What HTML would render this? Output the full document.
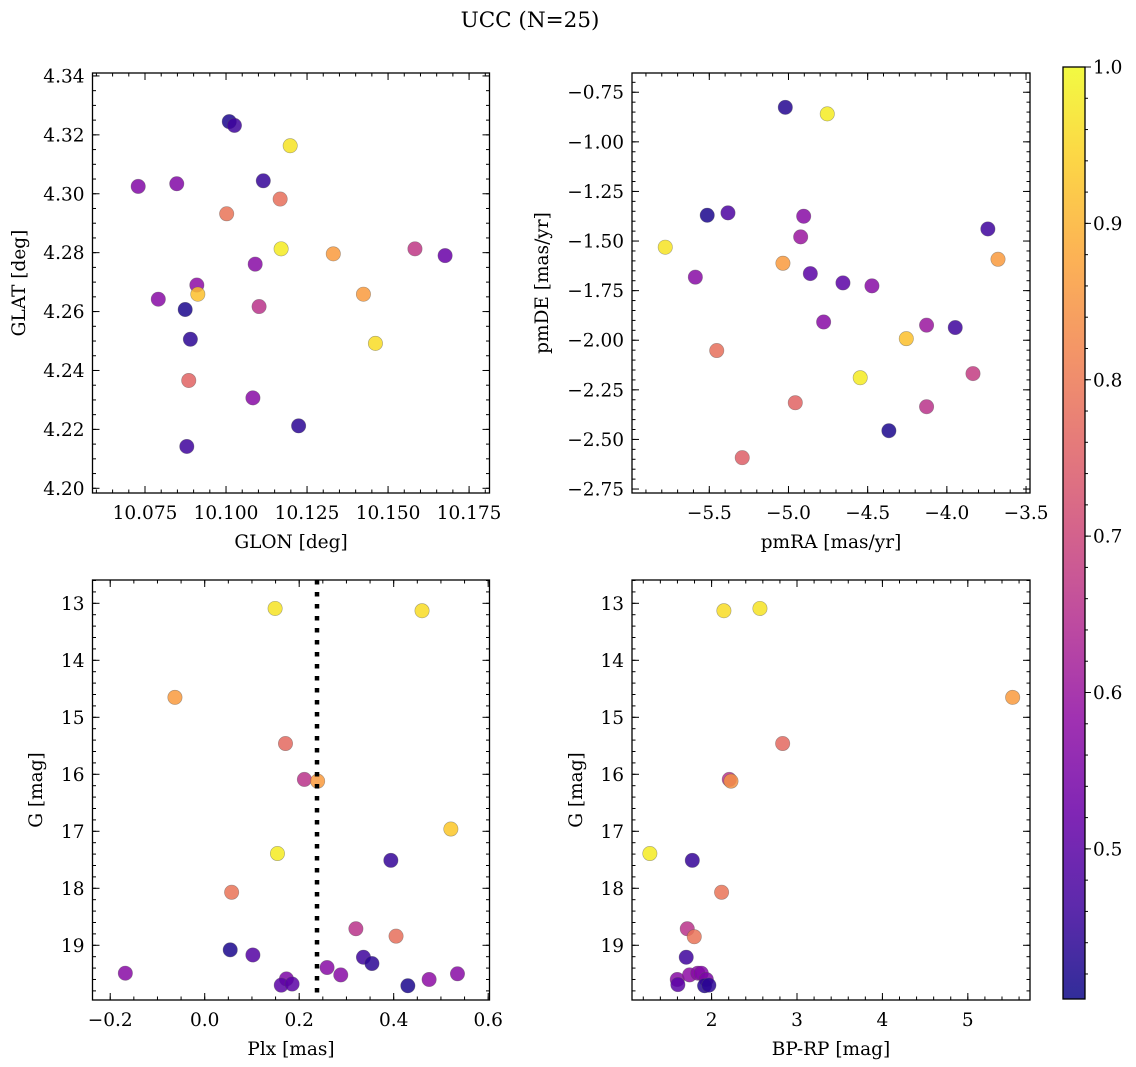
<!DOCTYPE html>
<html><head><meta charset="utf-8">
<style>
html,body{margin:0;padding:0;background:#fff;}
svg{display:block;font-family:"DejaVu Serif","Liberation Serif",serif;}
</style></head>
<body>
<svg id="fig" width="1136" height="1067" viewBox="0 0 1136 1067" xmlns="http://www.w3.org/2000/svg">
<rect x="0" y="0" width="1136" height="1067" fill="#fff"/>
<text x="530" y="27" font-size="21.5" text-anchor="middle">UCC (N=25)</text>
<g id="plots"></g>
</svg>
<script>
// ---- data ----
const tlGlon = [10.1010,10.1026,10.1198,10.1115,10.0729,10.0848,10.1167,10.1002,10.1170,10.1331,10.1583,10.1676,10.1090,10.0910,10.0913,10.0791,10.0874,10.1102,10.1424,10.0890,10.1461,10.0885,10.1083,10.1224,10.0879];
const tlGlat = [4.3245,4.3232,4.3163,4.3044,4.3025,4.3034,4.2982,4.2932,4.2813,4.2796,4.2813,4.2790,4.2761,4.2690,4.2659,4.2642,4.2607,4.2617,4.2659,4.2506,4.2492,4.2366,4.2307,4.2212,4.2142];
const tlProb = [0.42,0.46,0.97,0.45,0.56,0.56,0.78,0.79,0.98,0.86,0.67,0.52,0.57,0.58,0.92,0.57,0.42,0.66,0.86,0.44,0.96,0.76,0.57,0.44,0.46];

const trPmra = [-5.020,-4.755,-5.513,-5.382,-4.904,-4.923,-3.741,-5.778,-5.035,-3.677,-5.588,-4.862,-4.656,-4.473,-4.778,-4.128,-3.947,-4.256,-5.453,-4.547,-3.835,-4.957,-4.128,-4.366,-5.292];
const trPmde = [-0.826,-0.859,-1.370,-1.358,-1.375,-1.479,-1.439,-1.531,-1.612,-1.592,-1.682,-1.664,-1.711,-1.726,-1.908,-1.924,-1.936,-1.992,-2.052,-2.189,-2.168,-2.315,-2.335,-2.456,-2.592];
const trProb = [0.43,0.98,0.42,0.48,0.57,0.60,0.46,0.97,0.86,0.86,0.57,0.50,0.50,0.57,0.57,0.60,0.46,0.92,0.78,0.98,0.68,0.76,0.66,0.42,0.75];

const blPlx = [0.149,0.460,-0.063,0.171,0.211,0.239,0.521,0.154,0.394,0.057,0.320,0.405,0.054,0.102,0.336,0.354,0.259,-0.168,0.288,0.535,0.475,0.173,0.162,0.185,0.430];
const blG = [13.09,13.13,14.65,15.46,16.09,16.12,16.96,17.39,17.51,18.07,18.71,18.84,19.08,19.17,19.21,19.32,19.39,19.49,19.52,19.50,19.60,19.59,19.70,19.68,19.71];
const blProb = [0.97,0.96,0.86,0.77,0.66,0.86,0.93,0.98,0.45,0.79,0.66,0.78,0.42,0.49,0.46,0.44,0.57,0.57,0.57,0.57,0.58,0.55,0.50,0.50,0.42];
const plxLine = [0.2377];

const brBprp = [2.144,2.566,5.525,2.832,2.207,2.227,1.277,1.774,2.117,1.715,1.797,1.703,1.598,1.605,1.742,1.839,1.879,1.938,1.918,1.968];
const brG = [13.13,13.09,14.65,15.46,16.09,16.12,17.39,17.51,18.07,18.71,18.85,19.21,19.60,19.69,19.52,19.49,19.49,19.60,19.71,19.70];
const brProb = [0.96,0.97,0.86,0.77,0.66,0.84,0.98,0.45,0.79,0.66,0.79,0.46,0.57,0.50,0.58,0.57,0.56,0.55,0.43,0.44];

const tlXTicks = [10.075,10.100,10.125,10.150,10.175];
const tlXTickLabels = ["10.075","10.100","10.125","10.150","10.175"];
const tlYTicks = [4.20,4.22,4.24,4.26,4.28,4.30,4.32,4.34];
const tlYTickLabels = ["4.20","4.22","4.24","4.26","4.28","4.30","4.32","4.34"];
const trXTicks = [-5.5,-5.0,-4.5,-4.0,-3.5];
const trXTickLabels = ["\u22125.5","\u22125.0","\u22124.5","\u22124.0","\u22123.5"];
const trYTicks = [-0.75,-1.00,-1.25,-1.50,-1.75,-2.00,-2.25,-2.50,-2.75];
const trYTickLabels = ["\u22120.75","\u22121.00","\u22121.25","\u22121.50","\u22121.75","\u22122.00","\u22122.25","\u22122.50","\u22122.75"];
const blXTicks = [-0.2,0.0,0.2,0.4,0.6];
const blXTickLabels = ["\u22120.2","0.0","0.2","0.4","0.6"];
const gTicks = [13,14,15,16,17,18,19];
const gTickLabels = ["13","14","15","16","17","18","19"];
const brXTicks = [2,3,4,5];
const brXTickLabels = ["2","3","4","5"];
const cbTicks = [0.5,0.6,0.7,0.8,0.9,1.0];
const cbTickLabels = ["0.5","0.6","0.7","0.8","0.9","1.0"];

// ---- rendering ----
const NS = "http://www.w3.org/2000/svg";
const root = document.getElementById('plots');
const VMIN = 0.404, VMAX = 1.0;
const FS = 18.5;
const plasma = [[13,8,135],[65,4,157],[106,0,168],[143,13,164],[177,42,144],[204,71,120],[225,100,98],[242,132,75],[252,166,54],[252,206,37],[240,249,33]];
function cmap(p){
  let t = (p-VMIN)/(VMAX-VMIN); t = Math.max(0,Math.min(1,t));
  const f = t*10, i = Math.min(9,Math.floor(f)), r = f-i;
  const a = plasma[i], b = plasma[i+1];
  return 'rgb('+a.map((v,k)=>Math.round(v+(b[k]-v)*r)).join(',')+')';
}
function mk(tag, attrs, parent){
  const e = document.createElementNS(NS, tag);
  for (const k in attrs) e.setAttribute(k, attrs[k]);
  (parent||root).appendChild(e);
  return e;
}
function range(a,b,s){const o=[];for(let v=a;v<=b+s*1e-6;v+=s)o.push(+v.toFixed(6));return o;}

function panel(cfg){
  const {name,x0,x1,y0,y1,xmin,xmax,ymin,ymax,invertY} = cfg;
  const sx = v => x0 + (v-xmin)/(xmax-xmin)*(x1-x0);
  const sy = invertY ? (v => y0 + (v-ymin)/(ymax-ymin)*(y1-y0)) : (v => y1 - (v-ymin)/(ymax-ymin)*(y1-y0));
  const g = mk('g',{});
  
  
  const pts = mk('g',{},g);
  
  
  cfg.xs.forEach((xv,i)=>{
    const c = mk('circle',{cx:sx(xv),cy:sy(cfg.ys[i]),r:7.2,fill:cmap(cfg.ps[i]),'fill-opacity':0.85,stroke:'#555','stroke-opacity':0.5,'stroke-width':0.6},pts);
    
    
  });
  if (cfg.vline){
    cfg.vline.forEach(v=>{
      const l = mk('line',{x1:sx(v),x2:sx(v),y1:y0,y2:y1,stroke:'#000','stroke-width':4.5,'stroke-dasharray':'4.5 7.5'},g);
      
      
    });
  }
  const tk = mk('g',{stroke:'#000','stroke-width':1},g);
  
  
  const xm = range(Math.ceil(xmin/cfg.xMinor)*cfg.xMinor, xmax, cfg.xMinor);
  xm.forEach(v=>{const X=sx(v);mk('line',{x1:X,x2:X,y1:y1,y2:y1-3.5},tk);mk('line',{x1:X,x2:X,y1:y0,y2:y0+3.5},tk);});
  cfg.xTicks.forEach(v=>{const X=sx(v);mk('line',{x1:X,x2:X,y1:y1,y2:y1-7},tk);mk('line',{x1:X,x2:X,y1:y0,y2:y0+7},tk);});
  const lo = Math.min(ymin,ymax), hi = Math.max(ymin,ymax);
  const ym = range(Math.ceil(lo/cfg.yMinor)*cfg.yMinor, hi, cfg.yMinor);
  ym.forEach(v=>{const Y=sy(v);mk('line',{x1:x0,x2:x0+3.5,y1:Y,y2:Y},tk);mk('line',{x1:x1,x2:x1-3.5,y1:Y,y2:Y},tk);});
  cfg.yTicks.forEach(v=>{const Y=sy(v);mk('line',{x1:x0,x2:x0+7,y1:Y,y2:Y},tk);mk('line',{x1:x1,x2:x1-7,y1:Y,y2:Y},tk);});
  const fr = mk('rect',{x:x0,y:y0,width:x1-x0,height:y1-y0,fill:'none',stroke:'#000','stroke-width':1.3},g);
  
  
  cfg.xTicks.forEach((v,i)=>{
    const t = mk('text',{x:sx(v),y:y1+26,'font-size':FS,'text-anchor':'middle'},g);
    t.textContent = cfg.xTickLabels[i];
    
    
  });
  cfg.yTicks.forEach((v,i)=>{
    const t = mk('text',{x:x0-8,y:sy(v)+6.5,'font-size':FS,'text-anchor':'end'},g);
    t.textContent = cfg.yTickLabels[i];
    
    
  });
  const xl = mk('text',{x:(x0+x1)/2,y:y1+55,'font-size':FS,'text-anchor':'middle'},g);
  xl.textContent = cfg.xLabel;
  
  
  const yl = mk('text',{x:0,y:0,'font-size':FS,'text-anchor':'middle',transform:'translate('+cfg.yLabelX+','+((y0+y1)/2)+') rotate(-90)'},g);
  yl.textContent = cfg.yLabel;
  
  
}

panel({name:'glon-glat',x0:92.5,x1:489.5,y0:73,y1:493,xmin:10.0588,xmax:10.1813,ymin:4.1984,ymax:4.341,
  xs:tlGlon,ys:tlGlat,ps:tlProb,xTicks:tlXTicks,xTickLabels:tlXTickLabels,yTicks:tlYTicks,yTickLabels:tlYTickLabels,
  xMinor:0.005,yMinor:0.005,xLabel:'GLON [deg]',yLabel:'GLAT [deg]',yLabelX:25});
panel({name:'pm',x0:632,x1:1030,y0:73,y1:493,xmin:-5.988,xmax:-3.475,ymin:-2.770,ymax:-0.653,
  xs:trPmra,ys:trPmde,ps:trProb,xTicks:trXTicks,xTickLabels:trXTickLabels,yTicks:trYTicks,yTickLabels:trYTickLabels,
  xMinor:0.1,yMinor:0.05,xLabel:'pmRA [mas/yr]',yLabel:'pmDE [mas/yr]',yLabelX:548});
panel({name:'plx-g',x0:92.5,x1:489.5,y0:580,y1:1000,xmin:-0.2375,xmax:0.6028,ymin:12.591,ymax:19.96,invertY:true,
  xs:blPlx,ys:blG,ps:blProb,xTicks:blXTicks,xTickLabels:blXTickLabels,yTicks:gTicks,yTickLabels:gTickLabels,
  xMinor:0.05,yMinor:0.2,xLabel:'Plx [mas]',yLabel:'G [mag]',yLabelX:42,vline:plxLine});
panel({name:'cmd',x0:632,x1:1030,y0:580,y1:1000,xmin:1.068,xmax:5.728,ymin:12.591,ymax:19.96,invertY:true,
  xs:brBprp,ys:brG,ps:brProb,xTicks:brXTicks,xTickLabels:brXTickLabels,yTicks:gTicks,yTickLabels:gTickLabels,
  xMinor:0.2,yMinor:0.2,xLabel:'BP-RP [mag]',yLabel:'G [mag]',yLabelX:582});

// colorbar
(function(){
  const cx0=1063,cx1=1085,cy0=67,cy1=999;
  const sc = v => cy1 - (v-VMIN)/(VMAX-VMIN)*(cy1-cy0);
  const g = mk('g',{});
  
  
  const defs = mk('defs',{},g);
  const lg = mk('linearGradient',{id:'cbg',x1:0,y1:1,x2:0,y2:0},defs);
  for(let i=0;i<=20;i++){const p=VMIN+(VMAX-VMIN)*i/20;mk('stop',{offset:(i/20),'stop-color':cmap(p),'stop-opacity':0.85},lg);}
  const r = mk('rect',{x:cx0,y:cy0,width:cx1-cx0,height:cy1-cy0,fill:'url(#cbg)',stroke:'#000','stroke-width':1.3},g);
  
  
  const tk = mk('g',{stroke:'#000','stroke-width':1},g);
  range(0.42,1.0,0.02).forEach(v=>{const Y=sc(v);mk('line',{x1:cx1,x2:cx1+3,y1:Y,y2:Y},tk);});
  cbTicks.forEach((v,i)=>{
    const Y=sc(v);
    mk('line',{x1:cx1,x2:cx1+6,y1:Y,y2:Y},tk);
    const t = mk('text',{x:cx1+8,y:Y+6.5,'font-size':FS,},g);
    t.textContent = cbTickLabels[i];
    
    
  });
})();
</script>
</body></html>
